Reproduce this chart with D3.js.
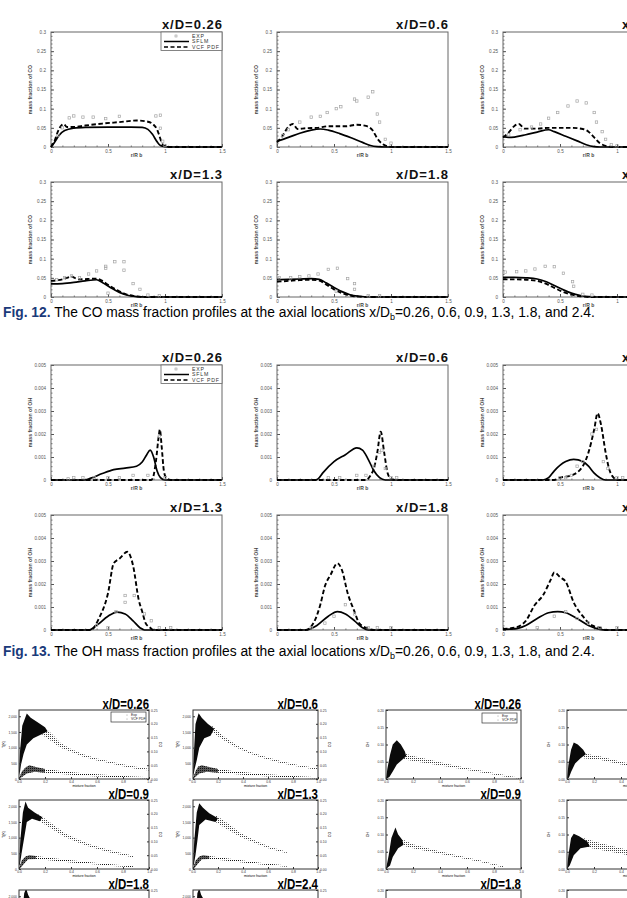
<!DOCTYPE html>
<html>
<head>
<meta charset="utf-8">
<script src="https://cdn.jsdelivr.net/npm/d3@7"></script>
<style>
  body { margin: 0; background: #fff; }
  svg { display: block; }
</style>
</head>
<body>
<div id="page"></div>
<script>
// 측정 위치 (x/D)
const stations = ["0.26", "0.6", "0.9", "1.3", "1.8", "2.4"];

// 축 눈금
const rTicks = [0, 0.5, 1, 1.5];
const coTicks = [0, 0.05, 0.1, 0.15, 0.2, 0.25, 0.3];
const ohTicks = [0, 0.001, 0.002, 0.003, 0.004, 0.005];
const zTicks = [0, 0.2, 0.4, 0.6, 0.8, 1];
const tTicks = [0, 500, 1000, 1500, 2000];
const rightTicks = [0, 0.05, 0.1, 0.15, 0.2, 0.25];
const ohScTicks = [0, 0.05, 0.1, 0.15, 0.2];

// CO 질량분율 (Fig. 12) - [r/Rb, Y]
const coSflm = [
  [[0,0],[0.03,0.012],[0.07,0.03],[0.12,0.043],[0.2,0.049],[0.3,0.051],[0.5,0.052],[0.7,0.052],[0.8,0.051],[0.85,0.046],[0.89,0.033],[0.93,0.014],[0.96,0.004],[1.0,0.001],[1.05,0],[1.5,0]],
  [[0,0.015],[0.1,0.025],[0.2,0.036],[0.3,0.044],[0.38,0.047],[0.45,0.044],[0.55,0.035],[0.65,0.024],[0.75,0.012],[0.82,0.004],[0.88,0.001],[0.95,0],[1.5,0]],
  [[0,0.027],[0.05,0.025],[0.1,0.026],[0.2,0.032],[0.3,0.039],[0.4,0.045],[0.45,0.04],[0.55,0.028],[0.65,0.016],[0.73,0.006],[0.8,0.001],[0.85,0],[1.5,0]],
  [[0,0.034],[0.1,0.035],[0.2,0.038],[0.3,0.042],[0.4,0.045],[0.45,0.038],[0.52,0.025],[0.6,0.012],[0.68,0.004],[0.75,0.001],[0.82,0],[1.5,0]],
  [[0,0.045],[0.1,0.046],[0.2,0.047],[0.3,0.048],[0.37,0.046],[0.43,0.037],[0.5,0.025],[0.57,0.014],[0.64,0.006],[0.72,0.002],[0.8,0],[1.5,0]],
  [[0,0.051],[0.1,0.051],[0.2,0.05],[0.3,0.047],[0.38,0.04],[0.45,0.03],[0.52,0.02],[0.6,0.01],[0.68,0.004],[0.75,0.001],[0.82,0],[1.5,0]]
];
const coVcf = [
  [[0,0],[0.03,0.015],[0.06,0.04],[0.09,0.056],[0.11,0.06],[0.14,0.052],[0.2,0.052],[0.3,0.056],[0.45,0.061],[0.6,0.065],[0.75,0.069],[0.85,0.066],[0.9,0.058],[0.93,0.046],[0.95,0.03],[0.97,0.012],[1.0,0.002],[1.05,0],[1.5,0]],
  [[0,0.012],[0.05,0.03],[0.1,0.053],[0.14,0.06],[0.18,0.047],[0.25,0.049],[0.35,0.05],[0.45,0.054],[0.6,0.054],[0.7,0.058],[0.78,0.055],[0.84,0.043],[0.88,0.022],[0.93,0.007],[0.98,0.001],[1.05,0],[1.5,0]],
  [[0,0.025],[0.05,0.038],[0.1,0.055],[0.14,0.06],[0.19,0.048],[0.3,0.048],[0.4,0.05],[0.5,0.05],[0.6,0.05],[0.7,0.047],[0.75,0.04],[0.8,0.025],[0.85,0.01],[0.9,0.003],[0.97,0],[1.5,0]],
  [[0,0.042],[0.1,0.046],[0.18,0.053],[0.24,0.046],[0.32,0.047],[0.4,0.048],[0.45,0.042],[0.5,0.032],[0.58,0.018],[0.66,0.007],[0.74,0.002],[0.82,0],[1.5,0]],
  [[0,0.04],[0.1,0.042],[0.2,0.044],[0.3,0.045],[0.37,0.043],[0.43,0.033],[0.5,0.02],[0.57,0.01],[0.64,0.004],[0.72,0.001],[0.8,0],[1.5,0]],
  [[0,0.046],[0.1,0.046],[0.2,0.045],[0.3,0.042],[0.38,0.034],[0.45,0.024],[0.52,0.014],[0.6,0.006],[0.68,0.002],[0.76,0],[1.5,0]]
];
const coExp = [
  [[0.06,0.03],[0.1,0.05],[0.16,0.076],[0.2,0.081],[0.28,0.078],[0.37,0.078],[0.48,0.074],[0.6,0.08],[0.92,0.081],[0.96,0.083],[0.96,0.049],[0.98,0.015],[1.0,0.004]],
  [[0.05,0.03],[0.1,0.045],[0.2,0.065],[0.3,0.078],[0.38,0.08],[0.44,0.09],[0.52,0.1],[0.56,0.105],[0.68,0.125],[0.7,0.12],[0.8,0.13],[0.84,0.144],[0.88,0.086],[0.9,0.065],[0.95,0.02],[1.0,0.01]],
  [[0.05,0.032],[0.15,0.045],[0.25,0.052],[0.33,0.06],[0.4,0.075],[0.48,0.09],[0.57,0.107],[0.65,0.12],[0.73,0.115],[0.8,0.09],[0.82,0.065],[0.87,0.04],[0.9,0.02],[0.95,0.006],[1.0,0.003]],
  [[0.05,0.045],[0.12,0.05],[0.18,0.055],[0.25,0.05],[0.33,0.06],[0.4,0.068],[0.48,0.08],[0.48,0.075],[0.56,0.092],[0.64,0.092],[0.64,0.07],[0.72,0.035],[0.78,0.02],[0.5,0.01],[0.85,0.005],[0.95,0.003]],
  [[0.02,0.05],[0.12,0.05],[0.2,0.053],[0.28,0.055],[0.36,0.06],[0.45,0.072],[0.53,0.075],[0.62,0.048],[0.68,0.035],[0.68,0.02],[0.52,0.015],[0.8,0.003],[0.9,0.003]],
  [[0.02,0.065],[0.12,0.066],[0.2,0.068],[0.28,0.073],[0.37,0.08],[0.45,0.079],[0.53,0.062],[0.61,0.04],[0.62,0.028],[0.7,0.007],[0.78,0.005]]
];

// OH 질량분율 (Fig. 13)
const ohSflm = [
  [[0,0],[0.3,0],[0.35,0.00008],[0.45,0.00028],[0.55,0.00045],[0.65,0.00052],[0.75,0.0006],[0.8,0.00078],[0.84,0.0011],[0.87,0.0013],[0.9,0.001],[0.93,0.0004],[0.96,0.0001],[1.0,0],[1.5,0]],
  [[0,0],[0.33,0],[0.36,0.00005],[0.4,0.0003],[0.5,0.0008],[0.6,0.0011],[0.7,0.0014],[0.75,0.0013],[0.8,0.0009],[0.85,0.0004],[0.9,0.0001],[0.95,0],[1.5,0]],
  [[0,0],[0.35,0],[0.4,0.0001],[0.45,0.0004],[0.55,0.0008],[0.62,0.0009],[0.7,0.0008],[0.75,0.0006],[0.8,0.0003],[0.85,0.0001],[0.9,0],[1.5,0]],
  [[0,0],[0.33,0],[0.4,0.0002],[0.5,0.0006],[0.58,0.00078],[0.65,0.0007],[0.72,0.0004],[0.78,0.0001],[0.82,0],[1.5,0]],
  [[0,0],[0.25,0],[0.35,0.0002],[0.45,0.0006],[0.53,0.0008],[0.6,0.0007],[0.68,0.0004],[0.75,0.0001],[0.8,0],[1.5,0]],
  [[0,0.00003],[0.1,0.00005],[0.2,0.0002],[0.3,0.0005],[0.4,0.00075],[0.48,0.0008],[0.55,0.00075],[0.65,0.0005],[0.75,0.0002],[0.85,0.00003],[0.9,0],[1.5,0]]
];
const ohVcf = [
  [[0,0],[0.88,0],[0.9,0.0002],[0.92,0.0008],[0.945,0.0019],[0.955,0.0022],[0.97,0.0015],[0.99,0.0004],[1.01,0.0001],[1.05,0],[1.5,0]],
  [[0,0],[0.78,0],[0.82,0.0002],[0.85,0.0005],[0.88,0.0012],[0.91,0.0021],[0.94,0.0012],[0.97,0.0003],[1.0,0.00005],[1.05,0],[1.5,0]],
  [[0,0],[0.45,0],[0.5,0.0001],[0.6,0.0002],[0.7,0.0006],[0.75,0.0012],[0.8,0.0022],[0.83,0.0029],[0.86,0.0024],[0.9,0.0012],[0.93,0.0005],[0.97,0.0001],[1.0,0],[1.5,0]],
  [[0,0],[0.35,0],[0.42,0.0005],[0.5,0.0016],[0.55,0.0029],[0.6,0.0031],[0.67,0.0034],[0.72,0.0028],[0.77,0.0013],[0.8,0.0008],[0.83,0.0003],[0.87,0.0001],[0.9,0],[1.5,0]],
  [[0,0],[0.25,0],[0.32,0.0003],[0.38,0.0011],[0.42,0.0019],[0.47,0.0024],[0.53,0.0029],[0.57,0.0026],[0.62,0.0016],[0.68,0.0008],[0.72,0.0003],[0.78,0.0001],[0.85,0],[1.5,0]],
  [[0,0.00005],[0.1,0.0001],[0.2,0.0004],[0.28,0.0011],[0.35,0.0015],[0.42,0.0022],[0.45,0.0025],[0.5,0.0023],[0.55,0.0021],[0.62,0.0012],[0.7,0.0006],[0.78,0.0002],[0.85,0.0001],[0.9,0],[1.5,0]]
];
const ohExp = [
  [[0.15,0.00005],[0.2,0.0001],[0.28,0.0001],[0.38,0.0001],[0.5,0.0001],[0.6,0.0001],[0.72,0.0002],[0.85,0.0002],[0.95,0.0019],[1.0,0.0001]],
  [[0.45,0.0001],[0.55,0.0001],[0.7,0.0002],[0.78,0.0002],[0.85,0.0006],[0.9,0.0012],[0.92,0.0013],[0.95,0.0005],[1.0,0.0001],[1.05,0.0001]],
  [[0.5,0.0001],[0.55,0.0001],[0.6,0.0002],[0.65,0.0006],[0.7,0.0008],[0.78,0.002],[0.82,0.0022],[0.88,0.0008],[0.92,0.0005],[1.0,0.0001],[1.05,0.0001]],
  [[0.4,0.0002],[0.5,0.0001],[0.57,0.0008],[0.65,0.0012],[0.65,0.0015],[0.73,0.0015],[0.82,0.0007],[0.88,0.0004],[0.95,0.0001],[1.05,0.0001]],
  [[0.3,0.0001],[0.42,0.0003],[0.5,0.0006],[0.6,0.0011],[0.68,0.0007],[0.8,0.0001],[0.88,0.0001],[1.0,0.0001]],
  [[0.3,0.0001],[0.45,0.0006],[0.55,0.0008],[0.65,0.0005],[0.75,0.0003],[0.85,0.0001],[1.0,0.0001]]
];

// 산점도 (온도 / CO 대 혼합분율) - 점 구름의 외곽선
const tCore = [
  [[0,250],[0.008,900],[0.025,1700],[0.06,2090],[0.09,1950],[0.14,1820],[0.2,1650],[0.22,1520],[0.17,1420],[0.11,1300],[0.06,1100],[0.035,800],[0.015,450],[0.004,120]],
  [[0,200],[0.008,900],[0.02,1750],[0.045,2100],[0.07,1950],[0.12,1750],[0.17,1600],[0.14,1380],[0.09,1300],[0.05,1000],[0.03,600],[0.012,300],[0.004,100]],
  [[0,150],[0.01,900],[0.03,1800],[0.05,2150],[0.07,1950],[0.12,1800],[0.18,1650],[0.16,1520],[0.1,1600],[0.06,1500],[0.04,1000],[0.02,500],[0.005,100]],
  [[0,150],[0.01,900],[0.03,1800],[0.05,2100],[0.08,1950],[0.13,1780],[0.2,1620],[0.18,1500],[0.1,1580],[0.05,1400],[0.035,900],[0.02,450],[0.005,100]],
  [[0,150],[0.02,1200],[0.04,2100],[0.055,2250],[0.07,2050],[0.1,1800],[0.06,1500],[0.03,800],[0.01,300]],
  [[0,150],[0.02,1200],[0.035,2100],[0.05,2250],[0.065,2050],[0.1,1800],[0.06,1500],[0.03,800],[0.01,300]]
];
const tTail = [
  [[0.18,1680],[0.25,1450],[0.32,1150],[0.4,960],[0.49,800],[0.6,650],[0.7,560],[0.8,470],[0.9,390],[1.0,330],[1.0,270],[0.9,330],[0.8,410],[0.7,500],[0.6,590],[0.49,720],[0.4,870],[0.32,1000],[0.25,1200],[0.18,1400]],
  [[0.15,1700],[0.25,1350],[0.35,1080],[0.45,880],[0.55,740],[0.7,570],[0.85,440],[1.0,340],[1.0,290],[0.85,390],[0.7,510],[0.55,680],[0.45,820],[0.35,1000],[0.25,1230],[0.15,1500]],
  [[0.15,1750],[0.25,1450],[0.35,1150],[0.45,950],[0.55,780],[0.7,600],[0.88,420],[0.88,370],[0.7,530],[0.55,700],[0.45,850],[0.35,1030],[0.25,1280],[0.15,1550]],
  [[0.18,1720],[0.28,1450],[0.38,1150],[0.5,900],[0.62,700],[0.75,550],[0.75,500],[0.62,640],[0.5,820],[0.38,1020],[0.28,1250],[0.18,1500]],
  [[0.1,1800],[0.2,1400],[0.35,1000],[0.55,700],[0.55,640],[0.35,920],[0.2,1250],[0.1,1600]],
  [[0.1,1800],[0.2,1350],[0.35,950],[0.5,700],[0.5,640],[0.35,880],[0.2,1200],[0.1,1600]]
];
const coCloud = [
  [[0,0],[0.02,0.025],[0.05,0.042],[0.08,0.05],[0.12,0.044],[0.2,0.036],[0.3,0.03],[0.45,0.023],[0.6,0.017],[0.8,0.011],[1.0,0.006],[1.0,0.002],[0.8,0.005],[0.6,0.009],[0.45,0.014],[0.3,0.019],[0.2,0.023],[0.12,0.026],[0.06,0.02],[0.03,0.01]],
  [[0,0],[0.02,0.028],[0.04,0.044],[0.07,0.05],[0.11,0.045],[0.2,0.036],[0.3,0.03],[0.45,0.023],[0.6,0.017],[0.8,0.011],[1.0,0.006],[1.0,0.002],[0.8,0.005],[0.6,0.009],[0.45,0.014],[0.3,0.019],[0.2,0.023],[0.11,0.026],[0.05,0.02],[0.025,0.01]],
  [[0,0],[0.02,0.03],[0.05,0.045],[0.08,0.05],[0.13,0.047],[0.25,0.04],[0.4,0.032],[0.6,0.022],[0.75,0.015],[0.88,0.01],[0.88,0.006],[0.75,0.01],[0.6,0.016],[0.4,0.024],[0.25,0.031],[0.13,0.036],[0.07,0.035],[0.04,0.02],[0.015,0.005]],
  [[0,0],[0.02,0.03],[0.05,0.045],[0.08,0.05],[0.13,0.047],[0.25,0.04],[0.4,0.031],[0.55,0.022],[0.75,0.013],[0.75,0.008],[0.55,0.016],[0.4,0.024],[0.25,0.031],[0.13,0.036],[0.07,0.035],[0.04,0.02],[0.015,0.005]],
  [[0,0],[0.03,0.04],[0.06,0.05],[0.12,0.045],[0.3,0.03],[0.5,0.018],[0.5,0.01],[0.3,0.02],[0.12,0.032],[0.05,0.025]],
  [[0,0],[0.03,0.04],[0.06,0.05],[0.12,0.045],[0.3,0.03],[0.5,0.018],[0.5,0.01],[0.3,0.02],[0.12,0.032],[0.05,0.025]]
];
const ohCore = [
  [[0,0],[0.01,0.03],[0.03,0.07],[0.05,0.1],[0.08,0.112],[0.11,0.1],[0.14,0.08],[0.15,0.066],[0.12,0.056],[0.08,0.042],[0.05,0.022],[0.025,0.006]],
  [[0,0],[0.01,0.04],[0.03,0.085],[0.05,0.106],[0.08,0.1],[0.12,0.085],[0.14,0.072],[0.1,0.06],[0.06,0.045],[0.03,0.02],[0.015,0.004]],
  [[0,0],[0.02,0.04],[0.04,0.09],[0.07,0.12],[0.09,0.1],[0.12,0.085],[0.13,0.07],[0.09,0.06],[0.05,0.035],[0.03,0.01]],
  [[0,0],[0.01,0.04],[0.03,0.09],[0.05,0.102],[0.09,0.095],[0.15,0.08],[0.17,0.065],[0.1,0.06],[0.05,0.04],[0.02,0.01]],
  [[0,0],[0.02,0.05],[0.05,0.1],[0.08,0.09],[0.12,0.07],[0.08,0.05],[0.03,0.02]],
  [[0,0],[0.02,0.05],[0.05,0.1],[0.08,0.09],[0.12,0.07],[0.08,0.05],[0.03,0.02]]
];
const ohTail = [
  [[0.12,0.076],[0.2,0.067],[0.3,0.058],[0.45,0.044],[0.6,0.032],[0.75,0.021],[0.9,0.01],[1.0,0.003],[1.0,0.0],[0.9,0.006],[0.75,0.016],[0.6,0.026],[0.45,0.036],[0.3,0.046],[0.2,0.052],[0.12,0.058]],
  [[0.12,0.075],[0.25,0.065],[0.4,0.05],[0.6,0.035],[0.8,0.02],[1.0,0.006],[1.0,0.001],[0.8,0.014],[0.6,0.028],[0.4,0.042],[0.25,0.055],[0.12,0.06]],
  [[0.1,0.09],[0.2,0.072],[0.35,0.056],[0.5,0.042],[0.7,0.025],[0.87,0.008],[0.87,0.004],[0.7,0.02],[0.5,0.036],[0.35,0.048],[0.2,0.06],[0.1,0.07]],
  [[0.12,0.09],[0.25,0.075],[0.4,0.06],[0.6,0.045],[0.8,0.03],[1.0,0.015],[1.0,0.005],[0.8,0.018],[0.6,0.03],[0.4,0.044],[0.25,0.055],[0.12,0.065]],
  [[0.1,0.07],[0.3,0.05],[0.6,0.03],[0.6,0.02],[0.3,0.04],[0.1,0.055]],
  [[0.1,0.07],[0.3,0.05],[0.6,0.03],[0.6,0.02],[0.3,0.04],[0.1,0.055]]
];

// ---------------------------------------------------------------
const W = 627, H = 898;
const FONT = "'Liberation Sans', Arial, sans-serif";

const svg = d3.select("#page").append("svg")
  .attr("width", W).attr("height", H)
  .style("background", "#fff");

// 점 무늬 (산점도 꼬리 부분)
const defs = svg.append("defs");
defs.append("pattern")
  .attr("id", "dots").attr("width", 2).attr("height", 2)
  .attr("patternUnits", "userSpaceOnUse")
  .append("rect").attr("width", 1).attr("height", 1).attr("fill", "#111");

// 선 그래프 패널 (CO, OH)
const lpW = 171, lpH = 115;
const lpCols = [51, 277, 503];

function linePanel(x0, y0, yMax, yTicks, minorStep, species, idx, sflm, vcf, exp) {
  const g = svg.append("g");
  const x = d3.scaleLinear().domain([0, 1.5]).range([x0, x0 + lpW]);
  const y = d3.scaleLinear().domain([0, yMax]).range([y0 + lpH, y0]);

  // 보조 눈금
  const minorY = d3.range(0, yMax + 1e-9, minorStep);
  g.append("g").attr("transform", `translate(${x0},0)`)
    .call(d3.axisLeft(y).tickValues(minorY).tickSize(-1.5).tickFormat(""))
    .call(a => a.select(".domain").remove())
    .selectAll("line").attr("stroke", "#777");
  g.append("g").attr("transform", `translate(0,${y0 + lpH})`)
    .call(d3.axisBottom(x).tickValues(d3.range(0, 1.51, 0.1)).tickSize(-1.5).tickFormat(""))
    .call(a => a.select(".domain").remove())
    .selectAll("line").attr("stroke", "#777");

  // 주 눈금
  const ya = g.append("g").attr("transform", `translate(${x0},0)`)
    .call(d3.axisLeft(y).tickValues(yTicks).tickSize(-3).tickPadding(5).tickFormat(d => String(d)));
  ya.select(".domain").remove();
  ya.selectAll("line").attr("stroke", "#555");
  ya.selectAll("text").attr("font-size", 4.6).attr("font-family", FONT).attr("fill", "#555");

  const xa = g.append("g").attr("transform", `translate(0,${y0 + lpH})`)
    .call(d3.axisBottom(x).tickValues(rTicks).tickSize(-3).tickPadding(2.5).tickFormat(d => String(d)));
  xa.select(".domain").remove();
  xa.selectAll("line").attr("stroke", "#555");
  xa.selectAll("text").attr("font-size", 4.6).attr("font-family", FONT).attr("fill", "#555");

  // 테두리
  g.append("rect")
    .attr("x", x0).attr("y", y0).attr("width", lpW).attr("height", lpH)
    .attr("fill", "none").attr("stroke", "#666").attr("stroke-width", 1);

  // 축 제목
  g.append("text")
    .attr("transform", `translate(${x0 - 19},${y0 + lpH / 2}) rotate(-90)`)
    .attr("text-anchor", "middle")
    .attr("font-size", 5.2).attr("font-family", FONT).attr("font-weight", "bold").attr("fill", "#444")
    .text(`mass fraction of ${species}`);
  g.append("text")
    .attr("x", x0 + lpW / 2).attr("y", y0 + lpH + 10)
    .attr("text-anchor", "middle")
    .attr("font-size", 5).attr("font-family", FONT).attr("font-weight", "bold").attr("fill", "#444")
    .text("r/R b");

  // 제목
  g.append("text")
    .attr("x", x0 + lpW + 1).attr("y", y0 - 3.5)
    .attr("text-anchor", "end")
    .attr("font-size", 13).attr("font-weight", "bold").attr("font-family", FONT)
    .attr("letter-spacing", 1.0).attr("fill", "#111")
    .text(`x/D=${stations[idx]}`);

  const line = d3.line().x(d => x(d[0])).y(d => y(d[1])).curve(d3.curveMonotoneX);

  g.append("path").datum(sflm)
    .attr("fill", "none").attr("stroke", "#000").attr("stroke-width", 1.7)
    .attr("d", line);
  g.append("path").datum(vcf)
    .attr("fill", "none").attr("stroke", "#000").attr("stroke-width", 1.9)
    .attr("stroke-dasharray", "4.5,2.5")
    .attr("d", line);

  g.selectAll(".exp").data(exp).enter().append("rect")
    .attr("x", d => x(d[0]) - 1.2).attr("y", d => y(d[1]) - 1.2)
    .attr("width", 2.4).attr("height", 2.4)
    .attr("fill", "none").attr("stroke", "#a5a5a5").attr("stroke-width", 0.7);

  // 범례 (첫 패널만)
  if (idx === 0) {
    const lx = x0 + lpW - 61, ly = y0;
    const lg = g.append("g");
    lg.append("rect").attr("x", lx).attr("y", ly).attr("width", 61).attr("height", 18.5)
      .attr("fill", "#fff").attr("stroke", "#666").attr("stroke-width", 0.8);
    const rows = ["EXP", "SFLM", "VCF PDF"];
    rows.forEach((t, i) => {
      const yy = ly + 4 + i * 5.5;
      if (i === 0) {
        lg.append("rect").attr("x", lx + 14).attr("y", yy - 1).attr("width", 2).attr("height", 2)
          .attr("fill", "none").attr("stroke", "#999").attr("stroke-width", 0.6);
      } else {
        lg.append("line").attr("x1", lx + 3).attr("x2", lx + 28).attr("y1", yy).attr("y2", yy)
          .attr("stroke", "#000").attr("stroke-width", 1.5)
          .attr("stroke-dasharray", i === 2 ? "4,2.5" : null);
      }
      lg.append("text").attr("x", lx + 31).attr("y", yy + 1.8)
        .attr("font-size", 5.2).attr("font-family", FONT).attr("letter-spacing", 0.8)
        .attr("fill", "#333").text(t);
    });
  }
}

// 그림 캡션
function caption(yBase, num, species) {
  const t = svg.append("text")
    .attr("x", 3).attr("y", yBase)
    .attr("font-size", 13.8).attr("font-family", FONT).attr("fill", "#000");
  t.append("tspan").attr("font-weight", "bold").attr("fill", "#1a3a7a").text(`Fig. ${num}.`);
  t.append("tspan").text(` The ${species} mass fraction profiles at the axial locations x/D`);
  t.append("tspan").attr("font-size", 9).attr("dy", 3).text("b");
  t.append("tspan").attr("dy", -3).text(`=${stations.join(", ").replace(", 2.4", ", and 2.4")}.`);
}

// Fig. 12 (CO)
[32, 182].forEach((top, r) => {
  lpCols.forEach((left, c) => {
    const i = r * 3 + c;
    linePanel(left, top, 0.3, coTicks, 0.01, "CO", i, coSflm[i], coVcf[i], coExp[i]);
  });
});
caption(317, 12, "CO");

// Fig. 13 (OH)
[365, 515].forEach((top, r) => {
  lpCols.forEach((left, c) => {
    const i = r * 3 + c;
    linePanel(left, top, 0.005, ohTicks, 0.0002, "OH", i, ohSflm[i], ohVcf[i], ohExp[i]);
  });
});
caption(656, 13, "OH");

// 산점도 패널
const spH = 69;
const spRows = [710, 800, 890];

function scatterFrame(g, x0, y0, w, idx) {
  g.append("rect").attr("x", x0).attr("y", y0).attr("width", w).attr("height", spH)
    .attr("fill", "none").attr("stroke", "#333").attr("stroke-width", 1);
  const label = `x/D=${stations[idx]}`;
  g.append("text")
    .attr("x", x0 + w).attr("y", y0 - 1.5)
    .attr("text-anchor", "end")
    .attr("font-size", 14).attr("font-weight", "bold").attr("font-family", FONT)
    .attr("textLength", label.length * 5.8).attr("lengthAdjust", "spacingAndGlyphs")
    .attr("fill", "#000")
    .text(label);
}

function tinyAxis(g, axis, tx, ty) {
  const a = g.append("g").attr("transform", `translate(${tx},${ty})`).call(axis);
  a.select(".domain").remove();
  a.selectAll("line").attr("stroke", "#333");
  a.selectAll("text").attr("font-size", 3.4).attr("font-family", FONT).attr("fill", "#333");
  return a;
}

function legendBox(g, lx, ly) {
  g.append("rect").attr("x", lx).attr("y", ly).attr("width", 35).attr("height", 10)
    .attr("fill", "#fff").attr("stroke", "#333").attr("stroke-width", 0.7);
  ["Exp", "VCF PDF"].forEach((t, i) => {
    g.append("circle").attr("cx", lx + 16).attr("cy", ly + 3 + i * 4).attr("r", 0.4).attr("fill", "#333");
    g.append("text").attr("x", lx + 20).attr("y", ly + 4.2 + i * 4)
      .attr("font-size", 3.4).attr("font-family", FONT).attr("fill", "#222").text(t);
  });
}

const poly = (x, y) => d3.line().x(d => x(d[0])).y(d => y(d[1])).curve(d3.curveLinearClosed);

// 온도 + CO 산점도 (왼쪽 묶음)
const tCols = [[19, 130], [193, 125]];
spRows.forEach((top, r) => {
  tCols.forEach(([left, w], c) => {
    const i = r * 2 + c;
    const g = svg.append("g");
    const clipId = `clipT${i}`;
    defs.append("clipPath").attr("id", clipId).append("rect")
      .attr("x", left).attr("y", top).attr("width", w).attr("height", spH);
    const x = d3.scaleLinear().domain([0, 1]).range([left, left + w]);
    const y = d3.scaleLinear().domain([0, 2200]).range([top + spH, top]);
    const y2 = d3.scaleLinear().domain([0, 0.25]).range([top + spH, top]);

    const cg = g.append("g").attr("clip-path", `url(#${clipId})`);
    cg.append("path").datum(tTail[i]).attr("d", poly(x, y)).attr("fill", "url(#dots)").attr("opacity", 0.8);
    cg.append("path").datum(coCloud[i]).attr("d", poly(x, y2)).attr("fill", "url(#dots)");
    cg.append("path").datum(coCloud[i].filter(d => d[0] <= 0.2)).attr("d", poly(x, y2)).attr("fill", "#111").attr("opacity", 0.7);
    cg.append("path").datum(tCore[i]).attr("d", poly(x, y)).attr("fill", "#0a0a0a");

    tinyAxis(g, d3.axisLeft(y).tickValues(tTicks).tickSize(-2).tickPadding(2), left, 0);
    tinyAxis(g, d3.axisRight(y2).tickValues(rightTicks).tickSize(-2).tickPadding(2), left + w, 0);
    tinyAxis(g, d3.axisBottom(x).tickValues(zTicks).tickSize(-2).tickPadding(1.5), 0, top + spH);
    g.append("text").attr("x", left + w / 2).attr("y", top + spH + 8).attr("text-anchor", "middle")
      .attr("font-size", 3.4).attr("font-family", FONT).text("mixture fraction");
    g.append("text").attr("transform", `translate(${left - 14},${top + spH / 2}) rotate(-90)`)
      .attr("text-anchor", "middle").attr("font-size", 3.6).attr("font-family", FONT).text("T(K)");
    g.append("text").attr("transform", `translate(${left + w + 13},${top + spH / 2}) rotate(-90)`)
      .attr("text-anchor", "middle").attr("font-size", 3.6).attr("font-family", FONT).text("CO");

    scatterFrame(g, left, top, w, i);
    if (i === 0) legendBox(g, left + w - 38, top + 2);
  });
});

// OH 산점도 (오른쪽 묶음)
const oCols = [[386, 135], [567, 135]];
spRows.forEach((top, r) => {
  oCols.forEach(([left, w], c) => {
    const i = r * 2 + c;
    const g = svg.append("g");
    const clipId = `clipO${i}`;
    defs.append("clipPath").attr("id", clipId).append("rect")
      .attr("x", left).attr("y", top).attr("width", w).attr("height", spH);
    const x = d3.scaleLinear().domain([0, 1]).range([left, left + w]);
    const y = d3.scaleLinear().domain([0, 0.2]).range([top + spH, top]);

    const cg = g.append("g").attr("clip-path", `url(#${clipId})`);
    cg.append("path").datum(ohTail[i]).attr("d", poly(x, y)).attr("fill", "url(#dots)").attr("opacity", 0.8);
    cg.append("path").datum(ohCore[i]).attr("d", poly(x, y)).attr("fill", "#0a0a0a");

    tinyAxis(g, d3.axisLeft(y).tickValues(ohScTicks).tickSize(-2).tickPadding(2), left, 0);
    tinyAxis(g, d3.axisBottom(x).tickValues(zTicks).tickSize(-2).tickPadding(1.5), 0, top + spH);
    g.append("text").attr("x", left + w / 2).attr("y", top + spH + 8).attr("text-anchor", "middle")
      .attr("font-size", 3.4).attr("font-family", FONT).text("mixture fraction");
    g.append("text").attr("transform", `translate(${left - 17},${top + spH / 2}) rotate(-90)`)
      .attr("text-anchor", "middle").attr("font-size", 3.6).attr("font-family", FONT).text("OH");

    scatterFrame(g, left, top, w, i);
    if (i === 0) legendBox(g, left + w - 39, top + 3);
  });
});
</script>
</body>
</html>
